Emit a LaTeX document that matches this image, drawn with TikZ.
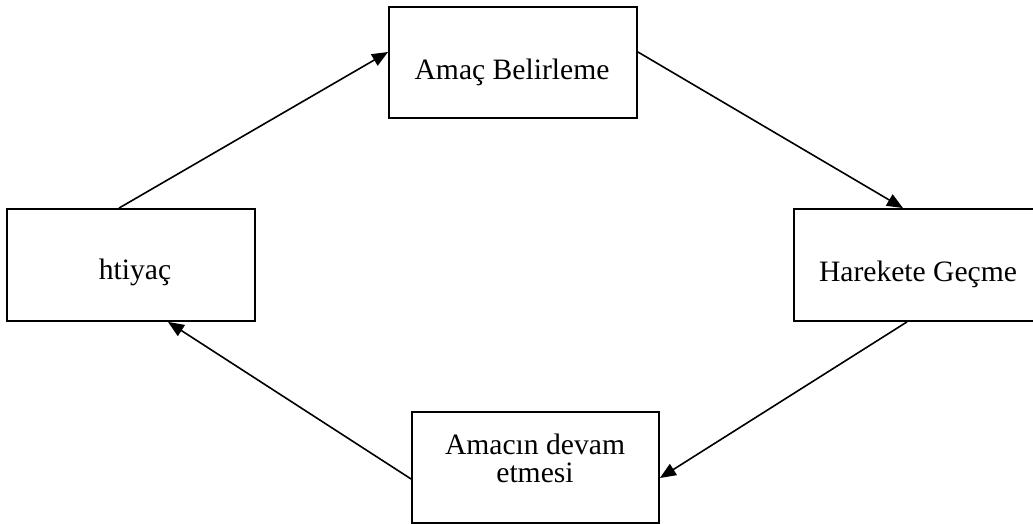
\documentclass[tikz,border=0pt]{standalone}
\usepackage{fontspec}
\setmainfont{Liberation Serif}
\usetikzlibrary{arrows.meta}
\tikzset{
  box/.style={draw=black, line width=1.8pt, fill=none, inner sep=0pt},
  txt/.style={font=\fontsize{29.6}{29}\selectfont, inner sep=0pt, anchor=base, align=center},
  conn/.style={draw=black, line width=1.6pt, -{Triangle[length=16pt,width=13pt]}}
}
\begin{document}
\begin{tikzpicture}[x=1pt,y=1pt]
\useasboundingbox (0,0) rectangle (1033,524);
\clip (0,0) rectangle (1033,524);
\node[box, minimum width=248pt, minimum height=112pt] (ihtiyac) at (131,259) {};
\node[box, minimum width=248pt, minimum height=111pt] (amac) at (513,461.5) {};
\node[box, minimum width=248pt, minimum height=112pt] (hareket) at (918,259) {};
\node[box, minimum width=247pt, minimum height=111pt] (amacin) at (535.5,56.5) {};
\node[txt] (t1) at (135,244) {htiyaç};
\node[txt] (t2) at (512,444) {Amaç Belirleme};
\node[txt] (t3) at (918,242) {Harekete Geçme};
\node[txt] (t4) at (535,41) {Amacın devam\\[-1pt]etmesi};
\draw[conn] ([xshift=-12pt]ihtiyac.north) -- ([yshift=10.5pt]amac.west);
\draw[conn] ([yshift=10.5pt]amac.east) -- ([xshift=-15pt]hareket.north);
\draw[conn] ([xshift=-11pt]hareket.south) -- ([yshift=-10.5pt]amacin.east);
\draw[conn] ([yshift=-11.5pt]amacin.west) -- ([xshift=37pt]ihtiyac.south);
\end{tikzpicture}
\end{document}
